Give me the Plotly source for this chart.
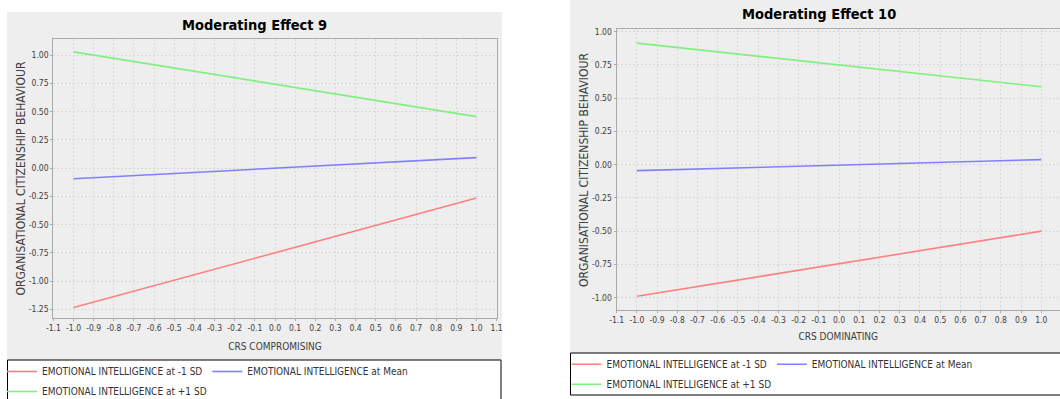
import plotly.graph_objects as go

# ---------------- data ----------------
x_points = [-1.0, 1.0]

left_title = "Moderating Effect 9"
left_xlabel = "CRS COMPROMISING"
left_minus_sd = [-1.235, -0.265]
left_mean = [-0.095, 0.092]
left_plus_sd = [1.028, 0.455]

right_title = "Moderating Effect 10"
right_xlabel = "CRS DOMINATING"
right_minus_sd = [-0.99, -0.50]
right_mean = [-0.045, 0.038]
right_plus_sd = [0.914, 0.586]

ylabel = "ORGANISATIONAL CITIZENSHIP BEHAVIOUR"
series_names = ["EMOTIONAL INTELLIGENCE at -1 SD",
                "EMOTIONAL INTELLIGENCE at Mean",
                "EMOTIONAL INTELLIGENCE at +1 SD"]
x_ticks = [-1.1, -1.0, -0.9, -0.8, -0.7, -0.6, -0.5, -0.4, -0.3, -0.2, -0.1,
           0.0, 0.1, 0.2, 0.3, 0.4, 0.5, 0.6, 0.7, 0.8, 0.9, 1.0, 1.1]
x_tick_labels = ["-1.1", "-1.0", "-0.9", "-0.8", "-0.7", "-0.6", "-0.5", "-0.4",
                 "-0.3", "-0.2", "-0.1", "0.0", "0.1", "0.2", "0.3", "0.4", "0.5",
                 "0.6", "0.7", "0.8", "0.9", "1.0", "1.1"]
y_ticks_left = [-1.25, -1.0, -0.75, -0.5, -0.25, 0.0, 0.25, 0.5, 0.75, 1.0]
y_tick_labels_left = ["-1.25", "-1.00", "-0.75", "-0.50", "-0.25", "0.00",
                      "0.25", "0.50", "0.75", "1.00"]
y_ticks_right = [-1.0, -0.75, -0.5, -0.25, 0.0, 0.25, 0.5, 0.75, 1.0]
y_tick_labels_right = ["-1.00", "-0.75", "-0.50", "-0.25", "0.00",
                       "0.25", "0.50", "0.75", "1.00"]

# ---------------- styling ----------------
W, H = 1060, 399
COLORS = ["#ff8080", "#8080ff", "#80f080"]
FONT = "DejaVu Sans Condensed, DejaVu Sans, sans-serif"
PANEL = "#eeeeee"
GRID = "#d8d8d8"
BORDER = "#aaaaaa"
TXT = "#404040"


def px(x):
    return x / W


def py(y):
    return 1 - y / H


fig = go.Figure()

left_series = [left_minus_sd, left_mean, left_plus_sd]
right_series = [right_minus_sd, right_mean, right_plus_sd]
left_legends = ["legend", "legend", "legend2"]
right_legends = ["legend3", "legend3", "legend4"]

for vals, name, col, lg in zip(left_series, series_names, COLORS, left_legends):
    fig.add_trace(go.Scatter(x=x_points, y=vals, mode="lines", name=name,
                             line=dict(color=col, width=1.6),
                             xaxis="x", yaxis="y", legend=lg))
for vals, name, col, lg in zip(right_series, series_names, COLORS, right_legends):
    fig.add_trace(go.Scatter(x=x_points, y=vals, mode="lines", name=name,
                             line=dict(color=col, width=1.6),
                             xaxis="x2", yaxis="y2", legend=lg))

tickfont = dict(family=FONT, size=8.5, color=TXT)
xtitlefont = dict(family=FONT, size=10, color=TXT)
ytitlefont = dict(family=FONT, size=12, color=TXT)

common_x = dict(tickvals=x_ticks, ticktext=x_tick_labels, tickangle=0, ticks="outside",
                ticklen=2, tickcolor=BORDER, tickfont=tickfont, showgrid=True,
                gridcolor=GRID, griddash="2px,2px", gridwidth=1, zeroline=False,
                showline=True, linecolor=BORDER, linewidth=1, mirror=True)
common_y = dict(ticks="outside", ticklen=2,
                tickcolor=BORDER, tickfont=tickfont, showgrid=True, gridcolor=GRID,
                griddash="2px,2px", gridwidth=1, zeroline=False, showline=True,
                linecolor=BORDER, linewidth=1)

# left plot area: x 53.3..496.7, y 39.3..318
# right plot area: x 616.5..(1061.7), y 29.3..310
fig.update_layout(
    xaxis=dict(common_x, domain=[px(53.3), px(496.7)], range=[-1.1005, 1.1005],
               anchor="y", title=dict(text=left_xlabel, font=xtitlefont, standoff=10)),
    yaxis=dict(common_y, domain=[py(318), py(39.3)], range=[-1.327, 1.139],
               tickvals=y_ticks_left, ticktext=y_tick_labels_left, anchor="x",
               mirror=True),
    xaxis2=dict(common_x, domain=[px(616.5), 1.0], range=[-1.1005, 1.0923],
                anchor="y2", title=dict(text=right_xlabel, font=xtitlefont, standoff=8)),
    yaxis2=dict(common_y, domain=[py(310), py(29.3)], range=[-1.093, 1.018],
                tickvals=y_ticks_right, ticktext=y_tick_labels_right, anchor="x2",
                mirror=False),
)

# chart panels and legend boxes
shapes = [
    dict(type="rect", xref="paper", yref="paper", x0=px(7), x1=px(502),
         y0=py(360), y1=py(12), fillcolor=PANEL, line=dict(width=0), layer="below"),
    dict(type="rect", xref="paper", yref="paper", x0=px(570), x1=px(1075),
         y0=py(353), y1=py(-5), fillcolor=PANEL, line=dict(width=0), layer="below"),
    dict(type="rect", xref="paper", yref="paper", x0=px(7.5), x1=px(501),
         y0=py(410), y1=py(360), fillcolor="white", line=dict(color="black", width=1),
         layer="below"),
    dict(type="rect", xref="paper", yref="paper", x0=px(570.5), x1=px(1075),
         y0=py(395), y1=py(353), fillcolor="white", line=dict(color="black", width=1),
         layer="below"),
]

annotations = [
    dict(text=f"<b>{left_title}</b>", x=px(254.5), y=py(25), xref="paper", yref="paper",
         xanchor="center", yanchor="middle", showarrow=False,
         font=dict(family=FONT, size=14.5, color="black")),
    dict(text=f"<b>{right_title}</b>", x=px(818.5), y=py(14), xref="paper", yref="paper",
         xanchor="center", yanchor="middle", showarrow=False,
         font=dict(family=FONT, size=14.5, color="black")),
    dict(text=ylabel, x=px(21), y=py(178.6), xref="paper", yref="paper",
         textangle=-90, xanchor="center", yanchor="middle", showarrow=False,
         font=ytitlefont),
    dict(text=ylabel, x=px(583.5), y=py(169.6), xref="paper", yref="paper",
         textangle=-90, xanchor="center", yanchor="middle", showarrow=False,
         font=ytitlefont),
]

legend_common = dict(orientation="h", bgcolor="rgba(0,0,0,0)", borderwidth=0,
                     font=dict(family=FONT, size=10, color="#333333"),
                     xanchor="left", yanchor="middle", itemclick=False,
                     itemdoubleclick=False, tracegroupgap=0)

fig.update_layout(
    width=W, height=H,
    margin=dict(l=0, r=0, t=0, b=0, autoexpand=False),
    paper_bgcolor="white", plot_bgcolor="white",
    shapes=shapes, annotations=annotations,
    showlegend=True,
    legend=dict(legend_common, x=px(2), y=py(371.5)),
    legend2=dict(legend_common, x=px(2), y=py(391.5)),
    legend3=dict(legend_common, x=px(566.5), y=py(364.3)),
    legend4=dict(legend_common, x=px(566.5), y=py(384.3)),
)

fig.write_html("out.html", config={"displayModeBar": False},
               post_script="document.body.style.margin='0px';document.body.style.padding='0px';")
